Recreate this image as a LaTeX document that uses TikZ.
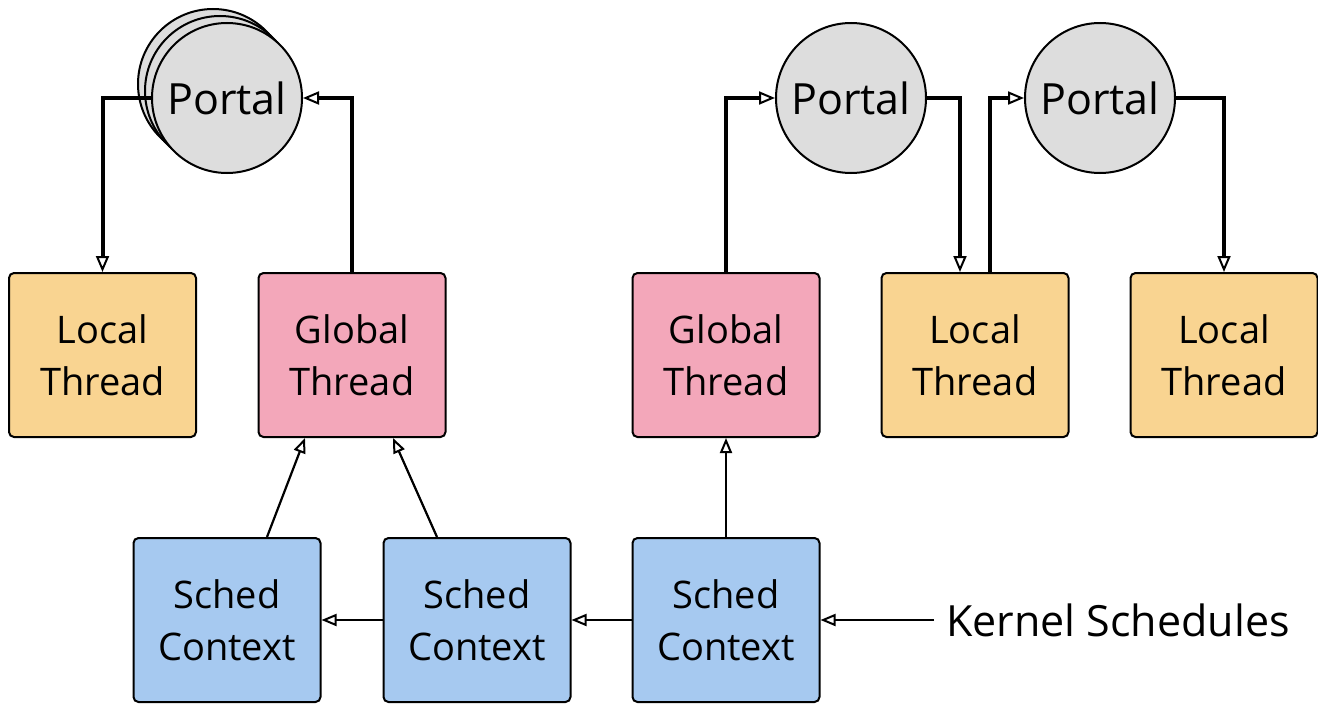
\documentclass[tikz,border=0pt]{standalone}
\usepackage{fontspec}
\setmainfont{Open Sans}
\usetikzlibrary{arrows.meta}
\definecolor{localc}{RGB}{249,212,145}
\definecolor{globalc}{RGB}{243,167,186}
\definecolor{schedc}{RGB}{166,201,240}
\definecolor{portalc}{RGB}{221,221,221}
\begin{document}
\begin{tikzpicture}[x=1pt,y=-1pt,
  box/.style={draw, line width=2pt, rounded corners=5pt, minimum width=187pt, minimum height=164pt, align=center, inner sep=0pt, font=\fontsize{38}{52}\selectfont},
  localbox/.style={box, fill=localc},
  globalbox/.style={box, fill=globalc},
  schedbox/.style={box, fill=schedc},
  portal/.style={circle, draw, line width=2pt, fill=portalc, minimum size=150pt, inner sep=0pt, font=\fontsize{43}{50}\selectfont},
  thick arrow/.style={line width=4pt, -{Triangle[open, length=16pt, width=13pt, line width=2pt, fill=white]}},
  thin arrow/.style={line width=2.2pt, -{Triangle[open, length=15pt, width=12pt, line width=2pt, fill=white]}}]
\useasboundingbox (0,0) rectangle (1318,704);
% boxes
\node[localbox] (L1) at (102.5,355) {Local\\Thread};
\node[globalbox] (G1) at (352,355) {Global\\Thread};
\node[globalbox] (G2) at (726,355) {Global\\Thread};
\node[localbox] (L2) at (975,355) {Local\\Thread};
\node[localbox] (L3) at (1224,355) {Local\\Thread};
\node[schedbox] (S1) at (227,620) {Sched\\Context};
\node[schedbox] (S2) at (477,620) {Sched\\Context};
\node[schedbox] (S3) at (726,620) {Sched\\Context};
% portals
\node[portal] (P1c) at (213,84) {};
\node[portal] (P1b) at (220,91) {};
\node[portal] (P1) at (227,98) {Portal};
\node[portal] (P2) at (851,98) {Portal};
\node[portal] (P3) at (1100,98) {Portal};
\node[anchor=west, inner sep=0pt, font=\fontsize{43}{50}\selectfont] (K) at (946,620) {Kernel Schedules};
% thick connectors
\draw[thick arrow] (P1.west) -| (L1.north);
\draw[thick arrow] (G1.north) |- (P1.east);
\draw[thick arrow] (G2.north) |- (P2.west);
\draw[thick arrow] (P2.east) -| ([xshift=-15pt]L2.north);
\draw[thick arrow] ([xshift=15pt]L2.north) |- (P3.west);
\draw[thick arrow] (P3.east) -| (L3.north);
% thin connectors
\draw[thin arrow] ([xshift=40pt]S1.north) -- ([xshift=-47pt]G1.south);
\draw[thin arrow] ([xshift=-40pt]S2.north) -- ([xshift=41pt]G1.south);
\draw[thin arrow] (S3.north) -- (G2.south);
\draw[thin arrow] (S2.west) -- (S1.east);
\draw[thin arrow] (S3.west) -- (S2.east);
\draw[thin arrow] ([xshift=-12pt]K.west) -- (S3.east);
\end{tikzpicture}
\end{document}
